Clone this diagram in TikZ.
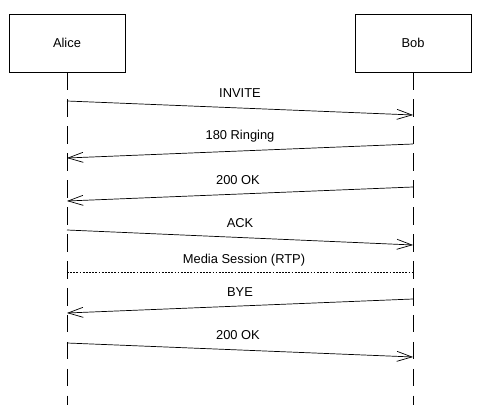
\documentclass[tikz,border=0pt]{standalone}
\usepackage{fontspec}
\setmainfont{Liberation Sans}
\usetikzlibrary{arrows.meta}

\begin{document}
\begin{tikzpicture}[x=0.03cm,y=-0.03cm,>={Straight Barb[length=4.5mm,width=3mm]},
  actor/.style={rectangle,draw,line width=0.6pt,minimum width=3.48cm,minimum height=1.74cm},
  lifeline/.style={line width=0.6pt,dash pattern=on 15pt off 8pt},
  msg/.style={->,line width=0.6pt},
  every node/.style={font=\fontsize{11}{13}\selectfont}]

  \useasboundingbox (0,0) rectangle (500,419);

  \node[actor] (alice) at (67,43) {Alice};
  \node[actor] (bob) at (413,43) {Bob};

  % lifelines
  \coordinate (aliceend) at (67,405);
  \coordinate (bobend) at (413,405);
  \draw[lifeline] (alice.south) -- (aliceend);
  \draw[lifeline] (bob.south) -- (bobend);

  % message ends
  \coordinate (a1) at (67,101);  \coordinate (b1) at (413,115);
  \coordinate (b2) at (413,144); \coordinate (a2) at (67,158);
  \coordinate (b3) at (413,187); \coordinate (a3) at (67,201);
  \coordinate (a4) at (67,230);  \coordinate (b4) at (413,245);
  \coordinate (a5) at (67,272);  \coordinate (b5) at (413,272);
  \coordinate (b6) at (413,299); \coordinate (a6) at (67,313);
  \coordinate (a7) at (67,343);  \coordinate (b7) at (413,357);

  \node (invite) at (240,93) {INVITE};
  \node (ringing) at (240,136) {180 Ringing};
  \node (ok1) at (238,180) {200 OK};
  \node (ack) at (240,223) {ACK};
  \node (media) at (244,260) {Media Session (RTP)};
  \node (bye) at (240,292) {BYE};
  \node (ok2) at (238,335) {200 OK};

  \draw[msg] (a1) -- (b1);
  \draw[msg] (b2) -- (a2);
  \draw[msg] (b3) -- (a3);
  \draw[msg] (a4) -- (b4);
  \draw[line width=0.6pt,dash pattern=on 1.5pt off 1.2pt] (a5) -- (b5);
  \draw[msg] (b6) -- (a6);
  \draw[msg] (a7) -- (b7);
\end{tikzpicture}
\end{document}
